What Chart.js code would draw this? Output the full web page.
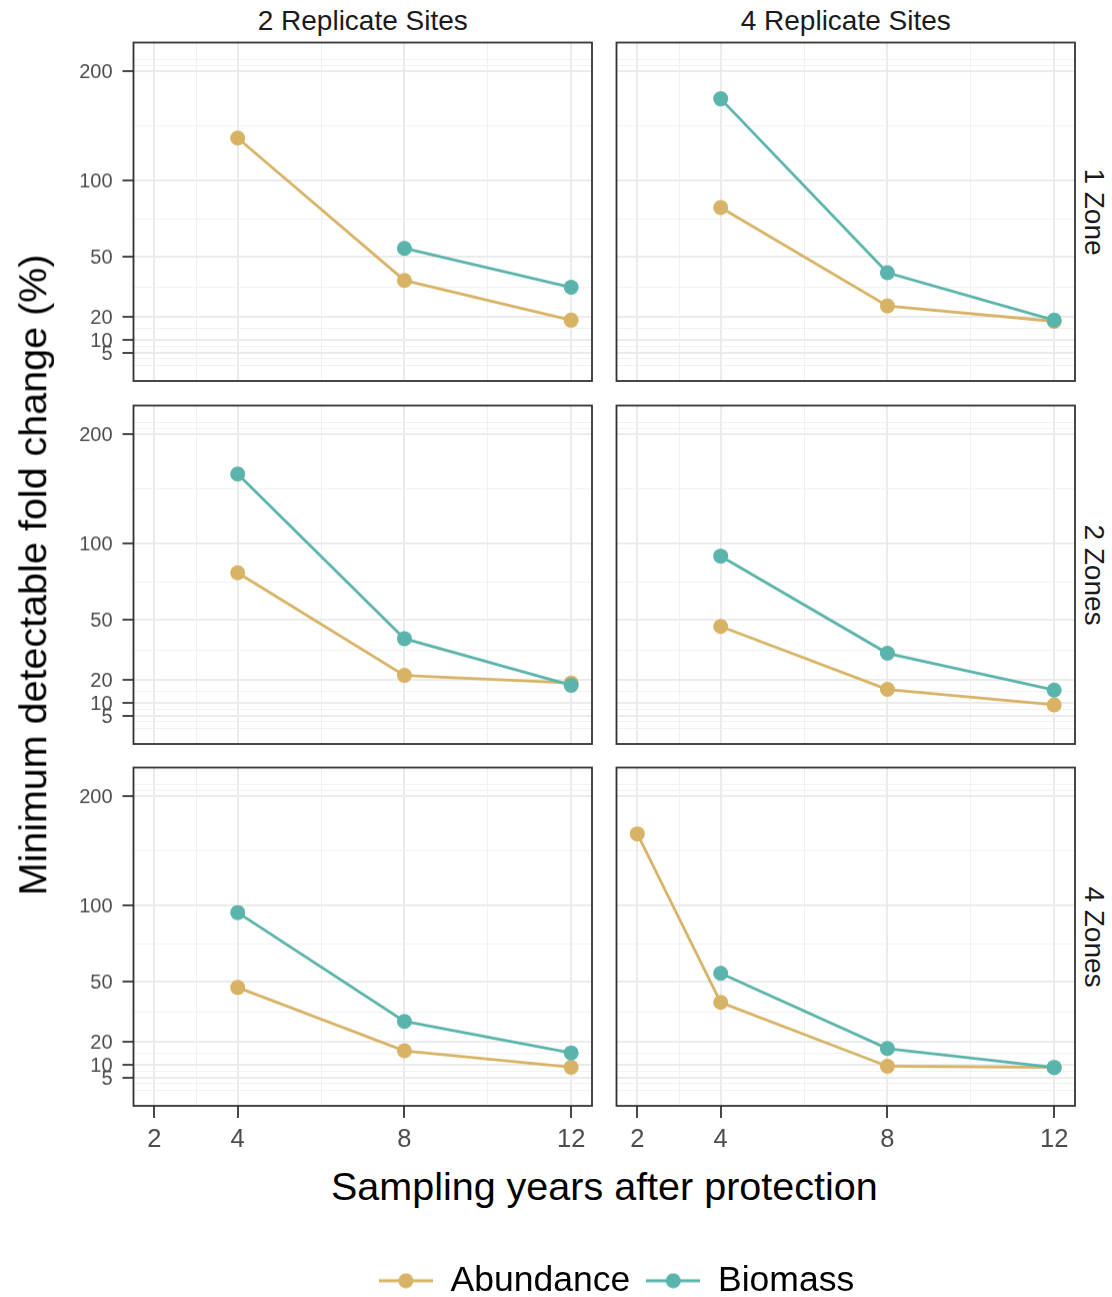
<!DOCTYPE html>
<html>
<head>
<meta charset="utf-8">
<title>Minimum detectable fold change</title>
<script src="https://cdn.jsdelivr.net/npm/chart.js@4.4.1/dist/chart.umd.min.js"></script>
<style>
  body { margin:0; background:#fff; }
  #fig { position:relative; width:1112px; height:1297px; overflow:hidden; background:#fff;
         font-family:"Liberation Sans", Arial, Helvetica, sans-serif; }
  #fig canvas { position:absolute; }
  .txt { position:absolute; white-space:nowrap; line-height:1; }
</style>
</head>
<body>
<div id="fig"></div>
<script>
// axes
const years = [2, 4, 8, 12];
const xBreaks = [2, 4, 8, 12];
const yBreaks = [5, 10, 20, 50, 100, 200];
const xLimits = [1.5, 12.5];
const yLimits = [-5.58, 234.4];   // in %, includes the 5% expansion

const siteLabels = ["2 Replicate Sites", "4 Replicate Sites"];
const zoneLabels = ["1 Zone", "2 Zones", "4 Zones"];
const seriesNames = ["Abundance", "Biomass"];
const seriesColors = ["#D8B365", "#5AB4AC"];

// minimum detectable change (%) at 2,4,8,12 years, null = not shown
const abund_1z_2s = [null, 134, 37.5, 18.5];
const biom_1z_2s  = [null, null, 55, 34];
const abund_1z_4s = [null, 80.5, 25, 18];
const biom_1z_4s  = [null, 171, 41.5, 18.5];
const abund_2z_2s = [null, 79, 22, 18.6];
const biom_2z_2s  = [null, 159, 40, 17.6];
const abund_2z_4s = [null, 46.5, 15.8, 9.3];
const biom_2z_4s  = [null, 90.5, 32.5, 15.5];
const abund_4z_2s = [null, 47, 16, 9.1];
const biom_4z_2s  = [null, 94.5, 29.5, 15.1];
const abund_4z_4s = [161, 39, 9.5, 9.0];
const biom_4z_4s  = [null, 55, 17, 9.0];

const panels = [
  [[abund_1z_2s, biom_1z_2s], [abund_1z_4s, biom_1z_4s]],
  [[abund_2z_2s, biom_2z_2s], [abund_2z_4s, biom_2z_4s]],
  [[abund_4z_2s, biom_4z_2s], [abund_4z_4s, biom_4z_4s]]
];

// y axis is log(1 + x/100)
const tf = v => Math.log1p(v / 100);

const FONT = '"Liberation Sans", Arial, Helvetica, sans-serif';
const colLeft = [133.5, 616.5], panelW = 458.5;
const rowTop = [42.5, 405.5, 767.5], panelH = 338;
const fig = document.getElementById("fig");
Chart.defaults.font.family = FONT;

function makeCanvas(left, top, w, h) {
  const cv = document.createElement("canvas");
  cv.width = w; cv.height = h;
  cv.style.left = left + "px"; cv.style.top = top + "px";
  cv.style.width = w + "px"; cv.style.height = h + "px";
  fig.appendChild(cv);
  return cv;
}

function addText(str, css) {
  const d = document.createElement("div");
  d.className = "txt";
  d.textContent = str;
  Object.assign(d.style, css);
  fig.appendChild(d);
}

// major + minor grid like ggplot's regular_minor_breaks
function gridTicks(breaks, labels, lo, hi) {
  const bd = breaks[1] - breaks[0];
  const ext = breaks.slice();
  if (lo < breaks[0]) ext.unshift(breaks[0] - bd);
  if (hi > breaks[breaks.length - 1]) ext.push(breaks[breaks.length - 1] + bd);
  const out = breaks.map((v, i) => ({ value: v, lvl: "major", lbl: String(labels[i]) }));
  ext.forEach((v, i) => {
    if (!breaks.includes(v)) out.push({ value: v, lvl: "minor" });
    if (i < ext.length - 1) out.push({ value: (v + ext[i + 1]) / 2, lvl: "minor" });
  });
  return out.filter(t => t.value >= lo && t.value <= hi).sort((a, b) => a.value - b.value);
}

function noPad(s) {
  s.paddingTop = 0; s.paddingBottom = 0; s.paddingLeft = 0; s.paddingRight = 0;
}

const panelBorder = {
  id: "panelBorder",
  afterDraw(chart) {
    const a = chart.chartArea, g = chart.ctx;
    g.save();
    g.strokeStyle = "#333333";
    g.lineWidth = 1.8;
    g.strokeRect(a.left, a.top, a.right - a.left, a.bottom - a.top);
    g.restore();
  }
};

const gridColor = c => c.tick && c.tick.lvl === "major" ? "#EBEBEB" : "#F0F0F0";
const gridWidth = c => c.tick && c.tick.lvl === "major" ? 2 : 1;
const tickColor = c => c.tick && c.tick.lvl === "major" ? "#333333" : "rgba(0,0,0,0)";
const tickLabel = (v, i, ticks) => ticks[i].lbl || "";

function toPoints(arr) {
  return years.map((x, i) => ({ x: x, y: arr[i] == null ? null : tf(arr[i]) }))
              .filter(p => p.y !== null);
}

function panelChart(r, c) {
  const left = c === 0 ? 0 : 612;
  const padL = c === 0 ? 0 : colLeft[1] - left;
  const axisW = c === 0 ? colLeft[0] : 0;
  const top = rowTop[r] - 4.5;
  const bottomRow = r === 2;
  const axisH = bottomRow ? 55 : 0;
  const w = (colLeft[c] - left) + panelW + 4;
  const h = 4.5 + panelH + (bottomRow ? axisH : 4);
  const cv = makeCanvas(left, top, w, h);
  const pair = panels[r][c];
  const ds = [];
  // lines first, then points (points on top), biomass over abundance
  pair.forEach((arr, k) => ds.push({
    label: seriesNames[k] + " line", data: toPoints(arr), showLine: true,
    borderColor: seriesColors[k], borderWidth: 2.8, pointRadius: 0,
    spanGaps: true, order: 3 - k
  }));
  pair.forEach((arr, k) => ds.push({
    label: seriesNames[k], data: toPoints(arr), showLine: false,
    pointRadius: 7.5, pointBackgroundColor: seriesColors[k], pointBorderWidth: 0,
    pointHoverRadius: 7.5, order: 1 - k
  }));
  new Chart(cv, {
    type: "scatter",
    data: { datasets: ds },
    options: {
      responsive: false, animation: false, devicePixelRatio: 1,
      layout: { autoPadding: false,
                padding: { left: padL, right: 4, top: 4.5, bottom: bottomRow ? 0 : 4 } },
      plugins: { legend: { display: false }, tooltip: { enabled: false } },
      scales: {
        x: {
          type: "linear", min: xLimits[0], max: xLimits[1], bounds: "data",
          afterBuildTicks: s => { s.ticks = gridTicks(xBreaks, xBreaks, xLimits[0], xLimits[1]); },
          afterFit: s => { s.height = axisH; noPad(s); },
          border: { display: false },
          grid: { color: gridColor, lineWidth: gridWidth, drawTicks: bottomRow, tickLength: 12,
                  tickColor: tickColor, tickWidth: 1.8 },
          ticks: { display: bottomRow, autoSkip: false, maxRotation: 0, padding: 6.5,
                   color: "#4D4D4D", font: { size: 25.5 }, callback: tickLabel }
        },
        y: {
          type: "linear", min: tf(yLimits[0]), max: tf(yLimits[1]), bounds: "data",
          afterBuildTicks: s => {
            s.ticks = gridTicks(yBreaks.map(tf), yBreaks, tf(yLimits[0]), tf(yLimits[1]));
          },
          afterFit: s => { s.width = axisW; noPad(s); },
          border: { display: false },
          grid: { color: gridColor, lineWidth: gridWidth, drawTicks: c === 0, tickLength: 11,
                  tickColor: tickColor, tickWidth: 1.8 },
          ticks: { display: c === 0, autoSkip: false, padding: 10, labelOffset: 1.5,
                   color: "#4D4D4D", font: { size: 20 }, callback: tickLabel }
        }
      }
    },
    plugins: [panelBorder]
  });
}

for (let r = 0; r < 3; r++) for (let c = 0; c < 2; c++) panelChart(r, c);

// facet strips
siteLabels.forEach((s, c) => addText(s, {
  left: (colLeft[c] + panelW / 2) + "px", top: "7.3px", transform: "translateX(-50%)",
  fontSize: "28px", color: "#1A1A1A"
}));
zoneLabels.forEach((s, r) => addText(s, {
  left: "1094px", top: (rowTop[r] + panelH / 2) + "px",
  transform: "translate(-50%,-50%) rotate(90deg)", fontSize: "28px", color: "#1A1A1A"
}));

// axis titles
addText("Minimum detectable fold change (%)", {
  left: "33.3px", top: "574.5px", transform: "translate(-50%,-50%) rotate(-90deg)",
  fontSize: "39.5px", color: "#000"
});
addText("Sampling years after protection", {
  left: "604.3px", top: "1166.6px", transform: "translateX(-50%)",
  fontSize: "39.5px", color: "#000"
});

// legend: line with a point, like the ggplot key
function keyImage(color) {
  const cv = document.createElement("canvas");
  cv.width = 54; cv.height = 16;
  const g = cv.getContext("2d");
  g.strokeStyle = color; g.lineWidth = 2.8;
  g.beginPath(); g.moveTo(0, 8); g.lineTo(54, 8); g.stroke();
  g.fillStyle = color;
  g.beginPath(); g.arc(27, 8, 7.5, 0, 2 * Math.PI); g.fill();
  return cv;
}

const legendCanvas = makeCanvas(121, 1247, 991, 170);
new Chart(legendCanvas, {
  type: "line",
  data: { datasets: seriesNames.map((n, i) => ({ label: n, data: [], borderColor: seriesColors[i], backgroundColor: seriesColors[i] })) },
  options: {
    responsive: false, animation: false, devicePixelRatio: 1,
    scales: { x: { display: false }, y: { display: false } },
    plugins: {
      tooltip: { enabled: false },
      legend: {
        display: true, position: "top", align: "center",
        labels: {
          usePointStyle: true, pointStyleWidth: 54, padding: 16, color: "#000",
          font: { size: 35.5 },
          generateLabels: ch => ch.data.datasets.map((d, i) => ({
            text: d.label, pointStyle: keyImage(seriesColors[i]), fillStyle: seriesColors[i],
            strokeStyle: seriesColors[i], lineWidth: 0, hidden: false, datasetIndex: i
          }))
        }
      }
    }
  }
});
</script>
</body>
</html>
